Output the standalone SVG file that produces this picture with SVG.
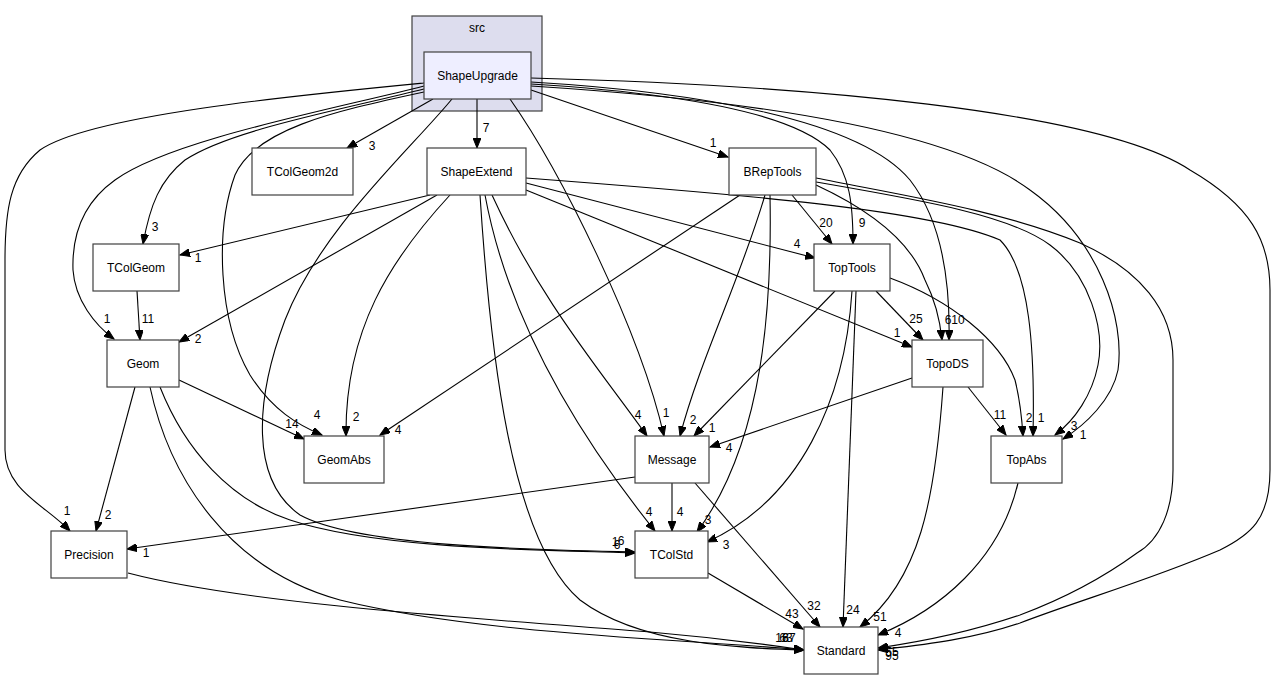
<svg xmlns="http://www.w3.org/2000/svg" width="1280" height="681" viewBox="0 0 1280 681">
<style>
.node rect{fill:#ffffff;stroke:#404040;stroke-width:1.2}
.node text,.lbl,.cl{font-family:"Liberation Sans",Arial,sans-serif;font-size:12px;fill:#000}
.node text{text-anchor:middle}
.lbl{text-anchor:middle}
#edges path{fill:none;stroke:#000;stroke-width:1.1;marker-end:url(#ah)}
</style>
<defs>
<marker id="ah" markerWidth="11" markerHeight="8" refX="10" refY="4" orient="auto" markerUnits="userSpaceOnUse">
<path d="M0,0 L10,4 L0,8 z" fill="#000" stroke="#000" stroke-width="1"/>
</marker>
</defs>
<rect width="1280" height="681" fill="#ffffff"/>
<g id="cluster_src">
<rect x="412" y="16" width="130" height="95" fill="#ddddee" stroke="#404040" stroke-width="1.2"/>
<text class="cl" x="477" y="32" text-anchor="middle">src</text>
</g>
<g id="edges">
<path d="M433,99 L347,148"/>
<path d="M477,99 L477,148"/>
<path d="M531,90 L728,157"/>
<path d="M424,89 C340,110 230,130 185,160 C160,180 150,205 143,244"/>
<path d="M424,86 C330,110 170,140 115,180 C80,205 72,240 73,270 C75,300 95,325 114,339"/>
<path d="M424,83 C300,95 90,115 40,150 C10,175 5,210 5,260 L5,450 C5,490 45,505 70,531"/>
<path d="M424,92 C330,112 255,130 235,175 C215,230 218,320 250,375 C272,410 298,425 322,435"/>
<path d="M452,99 C410,150 320,230 285,320 C255,400 250,480 300,515 C360,548 550,550 635,552"/>
<path d="M510,99 C560,170 640,330 664,436"/>
<path d="M531,84 C660,92 790,110 830,150 C850,175 853,205 853,244"/>
<path d="M531,82 C700,92 860,120 910,180 C945,225 950,290 949,340"/>
<path d="M531,86 C750,100 950,130 1030,190 C1100,240 1125,320 1118,370 C1112,400 1085,425 1063,439"/>
<path d="M531,78 C800,85 1100,110 1190,170 C1250,205 1270,240 1270,290 L1270,470 C1270,520 1250,535 1220,550 C1150,580 1080,600 1020,623 C970,640 920,645 878,650"/>
<path d="M816,185 C870,210 910,240 925,280 C935,300 940,320 942,340"/>
<path d="M816,182 C920,200 1010,215 1050,245 C1090,275 1105,330 1098,365 C1092,395 1075,420 1055,435"/>
<path d="M816,178 C900,195 1000,210 1080,243 C1140,270 1173,310 1173,360 L1173,470 C1173,510 1160,540 1137,553 C1100,580 1060,600 1020,615 C970,632 920,642 878,648"/>
<path d="M792,195 L832,244"/>
<path d="M765,195 C740,280 700,360 680,436"/>
<path d="M770,195 C772,300 765,440 697,532"/>
<path d="M740,195 L380,435"/>
<path d="M430,195 L180,255"/>
<path d="M437,195 L179,342"/>
<path d="M450,195 C390,260 345,330 346,436"/>
<path d="M526,183 L815,258"/>
<path d="M526,190 L912,347"/>
<path d="M526,178 C750,195 930,210 1000,240 C1030,270 1035,350 1033,436"/>
<path d="M492,195 C540,300 600,370 647,436"/>
<path d="M485,195 C510,330 590,450 655,531"/>
<path d="M480,195 C490,350 510,540 580,600 C640,645 740,648 804,650"/>
<path d="M137,291 L140,340"/>
<path d="M179,380 L304,439"/>
<path d="M135,387 L96,531"/>
<path d="M160,387 C185,450 230,500 290,520 C380,550 550,550 635,553"/>
<path d="M150,387 C170,480 230,570 340,600 C480,635 700,640 804,650"/>
<path d="M128,573 C250,605 500,620 650,632 C720,638 770,645 804,650"/>
<path d="M635,477 L127,549"/>
<path d="M672,483 L672,531"/>
<path d="M695,483 L820,627"/>
<path d="M708,573 L803,629"/>
<path d="M835,291 L694,436"/>
<path d="M852,291 C845,400 800,500 707,542"/>
<path d="M856,291 L843,627"/>
<path d="M876,291 L923,340"/>
<path d="M890,278 C950,300 1000,340 1015,380 C1020,400 1022,420 1023,436"/>
<path d="M912,378 L710,447"/>
<path d="M943,387 C935,500 920,580 860,627"/>
<path d="M968,387 L1006,435"/>
<path d="M1018,483 C1000,560 940,610 878,635"/>
</g>
<g id="labels">
<text class="lbl" x="372" y="150">3</text>
<text class="lbl" x="486" y="132">7</text>
<text class="lbl" x="713" y="147">1</text>
<text class="lbl" x="155" y="231">3</text>
<text class="lbl" x="107" y="323">1</text>
<text class="lbl" x="67" y="515">1</text>
<text class="lbl" x="317" y="419">4</text>
<text class="lbl" x="615" y="546">1</text>
<text class="lbl" x="621" y="545">6</text>
<text class="lbl" x="617" y="549">6</text>
<text class="lbl" x="666" y="417">1</text>
<text class="lbl" x="862" y="227">9</text>
<text class="lbl" x="948" y="324">6</text>
<text class="lbl" x="958" y="324">10</text>
<text class="lbl" x="1083" y="439">1</text>
<text class="lbl" x="1074" y="430">3</text>
<text class="lbl" x="892" y="656">55</text>
<text class="lbl" x="892" y="660">95</text>
<text class="lbl" x="826" y="227">20</text>
<text class="lbl" x="693" y="424">2</text>
<text class="lbl" x="708" y="524">3</text>
<text class="lbl" x="398" y="434">4</text>
<text class="lbl" x="198" y="262">1</text>
<text class="lbl" x="198" y="343">2</text>
<text class="lbl" x="356" y="421">2</text>
<text class="lbl" x="797" y="248">4</text>
<text class="lbl" x="897" y="337">1</text>
<text class="lbl" x="1041" y="422">1</text>
<text class="lbl" x="1029" y="422">2</text>
<text class="lbl" x="638" y="419">4</text>
<text class="lbl" x="649" y="516">4</text>
<text class="lbl" x="782" y="642">18</text>
<text class="lbl" x="786" y="642">63</text>
<text class="lbl" x="789" y="642">67</text>
<text class="lbl" x="148" y="323">11</text>
<text class="lbl" x="292" y="428">14</text>
<text class="lbl" x="108" y="519">2</text>
<text class="lbl" x="146" y="557">1</text>
<text class="lbl" x="680" y="516">4</text>
<text class="lbl" x="814" y="610">32</text>
<text class="lbl" x="792" y="618">43</text>
<text class="lbl" x="712" y="432">1</text>
<text class="lbl" x="726" y="549">3</text>
<text class="lbl" x="853" y="614">24</text>
<text class="lbl" x="916" y="323">25</text>
<text class="lbl" x="729" y="452">4</text>
<text class="lbl" x="880" y="621">51</text>
<text class="lbl" x="1000" y="419">11</text>
<text class="lbl" x="898" y="637">4</text>
</g>
<g id="ShapeUpgrade" class="node"><rect x="424" y="52" width="107" height="47" style="fill:#eeeeff"/><text x="477.5" y="80">ShapeUpgrade</text></g>
<g id="TColGeom2d" class="node"><rect x="252" y="148" width="101" height="47"/><text x="302.5" y="176">TColGeom2d</text></g>
<g id="ShapeExtend" class="node"><rect x="427" y="148" width="99" height="47"/><text x="476.5" y="176">ShapeExtend</text></g>
<g id="BRepTools" class="node"><rect x="729" y="148" width="87" height="47"/><text x="772.5" y="176">BRepTools</text></g>
<g id="TColGeom" class="node"><rect x="93" y="244" width="86" height="47"/><text x="136" y="272">TColGeom</text></g>
<g id="TopTools" class="node"><rect x="814" y="244" width="76" height="47"/><text x="852" y="272">TopTools</text></g>
<g id="Geom" class="node"><rect x="107" y="340" width="72" height="47"/><text x="143" y="368">Geom</text></g>
<g id="TopoDS" class="node"><rect x="912" y="340" width="71" height="47"/><text x="947.5" y="368">TopoDS</text></g>
<g id="GeomAbs" class="node"><rect x="304" y="436" width="80" height="47"/><text x="344" y="464">GeomAbs</text></g>
<g id="Message" class="node"><rect x="635" y="436" width="74" height="47"/><text x="672" y="464">Message</text></g>
<g id="TopAbs" class="node"><rect x="991" y="436" width="71" height="47"/><text x="1026.5" y="464">TopAbs</text></g>
<g id="Precision" class="node"><rect x="51" y="531" width="76" height="47"/><text x="89" y="559">Precision</text></g>
<g id="TColStd" class="node"><rect x="635" y="531" width="73" height="47"/><text x="671.5" y="559">TColStd</text></g>
<g id="Standard" class="node"><rect x="804" y="627" width="74" height="47"/><text x="841" y="655">Standard</text></g>
</svg>
